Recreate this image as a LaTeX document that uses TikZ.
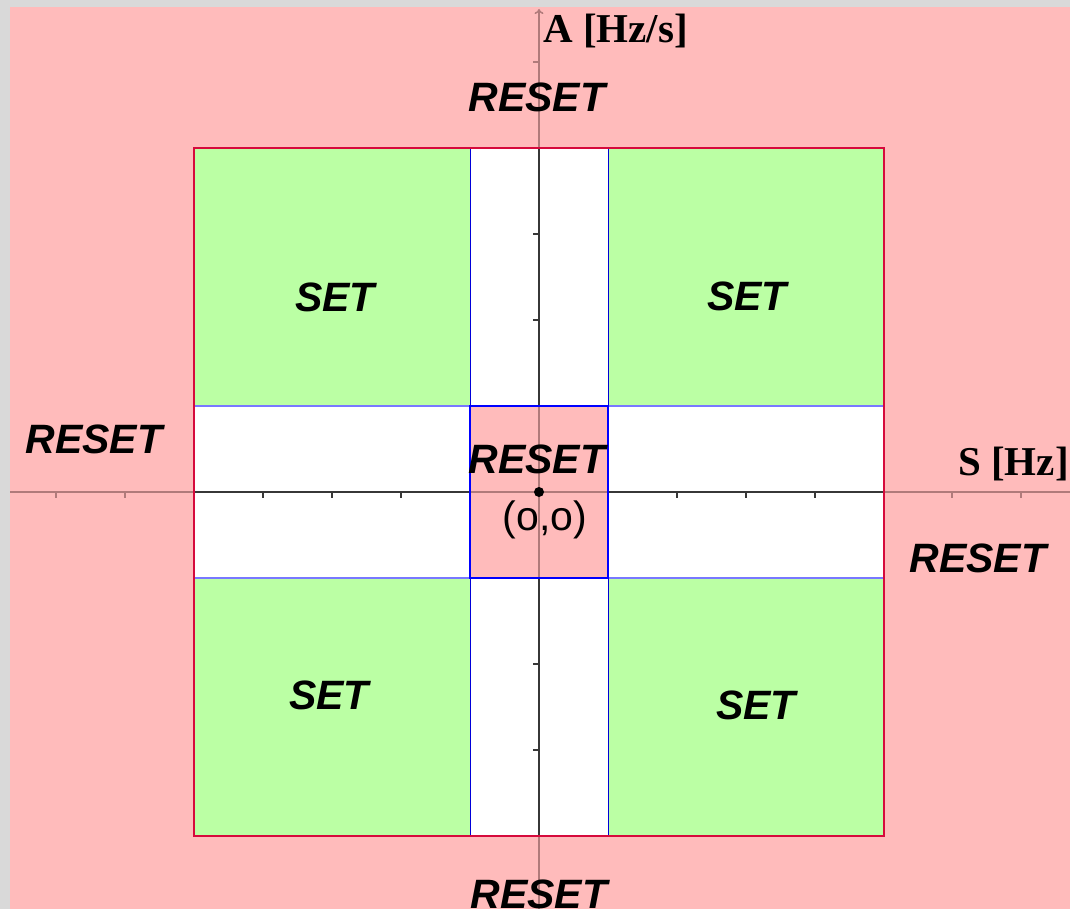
\documentclass[tikz,border=0pt]{standalone}
\usepackage{fontspec}
\setmainfont{Liberation Serif}
\setsansfont{Liberation Sans}
\usetikzlibrary{arrows.meta}
\definecolor{frame}{RGB}{217,217,217}
\definecolor{resetbg}{RGB}{255,187,187}
\definecolor{setbg}{RGB}{187,255,164}
\definecolor{rim}{RGB}{214,10,60}
\definecolor{axisdark}{RGB}{55,55,55}
\definecolor{axispink}{RGB}{176,122,122}
\definecolor{stripline}{RGB}{120,120,255}
\tikzset{
  zone/.style={font=\sffamily\bfseries\itshape\fontsize{41}{41}\selectfont, anchor=base, inner sep=0pt},
  axlabel/.style={font=\rmfamily\bfseries\fontsize{41}{41}\selectfont, anchor=base west, inner sep=0pt},
  axisline/.style={line width=1.5pt},
  tick/.style={line width=1.5pt}
}
\begin{document}
\begin{tikzpicture}[x=1pt,y=-1pt]
\useasboundingbox (0,0) rectangle (1070,909);
% window frame and outer reset area
\fill[frame] (0,0) rectangle (1070,909);
\fill[resetbg] (10,7) rectangle (1070,909);
% inner square: white cross with four set quadrants
\fill[white] (194,148) rectangle (884,836);
\fill[setbg] (194,148) rectangle (470,406);
\fill[setbg] (608,148) rectangle (884,406);
\fill[setbg] (194,578) rectangle (470,836);
\fill[setbg] (608,578) rectangle (884,836);
\fill[resetbg] (470,406) rectangle (608,578);
% axes
\draw[axisline, axispink] (10,492) -- (1070,492);
\draw[axisline, axispink, -{To[length=5pt,width=9pt]}] (539,909) -- (539,9);
\draw[axisline, axisdark] (194,492) -- (470,492) (608,492) -- (884,492);
\draw[axisline, axisdark] (539,148) -- (539,406) (539,578) -- (539,836);
% ticks on the S axis
\foreach \x in {56,125,952,1021} \draw[tick, axispink] (\x,492) -- (\x,498);
\foreach \x in {263,332,401,677,746,815} \draw[tick, axisdark] (\x,492) -- (\x,498);
% ticks on the A axis
\draw[tick, axispink] (539,62) -- (533,62);
\foreach \y in {234,320,664,750} \draw[tick, axisdark] (539,\y) -- (533,\y);
% boundaries
\draw[stripline, line width=1.2pt] (194,406) -- (884,406) (194,578) -- (884,578);
\draw[blue!85!black, line width=1pt] (470,148) -- (470,836) (608,148) -- (608,836);
\draw[rim, line width=2.4pt] (194,148) rectangle (884,836);
\node[draw=blue, line width=2pt, minimum width=138pt, minimum height=172pt, inner sep=0pt] (core) at (539,492) {};
% origin
\coordinate (origin) at (539,492);
\fill (origin) circle (5pt);
% labels
\node[axlabel] (alab) at (543,43) {A [Hz/s]};
\node[axlabel] (slab) at (958,475) {S [Hz]};
\node[font=\sffamily\fontsize{41}{41}\selectfont, anchor=base, inner sep=0pt] (olab) at (545,530) {(o,o)};
\node[zone] (rtop) at (537,112) {RESET};
\node[zone] (rleft) at (94,453) {RESET};
\node[zone] (rright) at (978,572) {RESET};
\node[zone] (rmid) at (537,473) {RESET};
\node[zone] (rbot) at (539,908) {RESET};
\node[zone] (s1) at (335,311) {SET};
\node[zone] (s2) at (747,310) {SET};
\node[zone] (s3) at (329,709) {SET};
\node[zone] (s4) at (756,719) {SET};
\end{tikzpicture}
\end{document}
